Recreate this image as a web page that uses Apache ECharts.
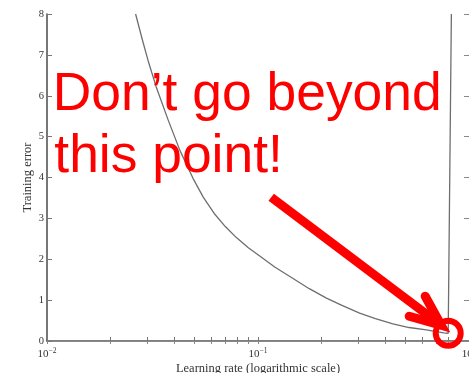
<!DOCTYPE html>
<html>
<head>
<meta charset="utf-8">
<script src="https://cdn.jsdelivr.net/npm/echarts@6/dist/echarts.min.js"></script>
<style>
  html, body { margin: 0; padding: 0; background: #fff; }
  #chart { width: 469px; height: 373px; }
</style>
</head>
<body>
<div id="chart"></div>
<script>
// Training error as a function of the learning rate (log scale)
const learningRate  = [0.0263, 0.0282, 0.0301, 0.0330, 0.0375, 0.0426, 0.0492, 0.0550, 0.0620, 0.0700, 0.0790,
                       0.0900, 0.1019, 0.1200, 0.1466, 0.1750, 0.2110, 0.2500, 0.3030, 0.3600, 0.4360, 0.5200,
                       0.6280, 0.7000, 0.7600, 0.7970, 0.8250];
const trainingError = [8.00,   7.40,   6.87,   6.20,   5.41,   4.67,   3.98,   3.52,   3.12,   2.80,   2.53,
                       2.28,   2.08,   1.81,   1.53,   1.28,   1.05,   0.87,   0.68,   0.55,   0.42,   0.33,
                       0.27,   0.23,   0.20,   0.19,   8.00];

// Axis ticks and labels
const xLabelValues = [0.01, 0.1, 1];
const xLabelExponents = ['\u22122', '\u22121', '0'];
const xTickValues = [0.01, 0.02, 0.03, 0.04, 0.05, 0.06, 0.07, 0.08, 0.09,
                     0.1, 0.2, 0.3, 0.4, 0.5, 0.6, 0.7, 0.8, 0.9, 1];
const yTickValues = [0, 1, 2, 3, 4, 5, 6, 7, 8];

// Index of the point the annotation points at (the bottom of the curve)
const markedIndex = 25;

const serif = '"Liberation Serif", "DejaVu Serif", serif';
const sans = '"Liberation Sans", Arial, sans-serif';

const chart = echarts.init(document.getElementById('chart'), null, { renderer: 'canvas' });

const option = {
  animation: false,
  backgroundColor: '#fff',
  grid: { left: 47, right: 0, top: 14, bottom: 32, containLabel: false, outerBoundsMode: 'none' },
  xAxis: [
    {
      type: 'log', logBase: 10, min: 0.01, max: 1, position: 'bottom',
      name: 'Learning rate (logarithmic scale)',
      nameLocation: 'middle', nameGap: 21, nameMoveOverlap: false,
      nameTextStyle: { fontFamily: serif, fontSize: 12.5, color: '#333' },
      axisLine: { show: true, lineStyle: { color: '#555', width: 1.6 } },
      axisTick: { show: true, inside: true, length: 4, customValues: xTickValues,
                  lineStyle: { color: '#777', width: 1 } },
      axisLabel: {
        show: true, customValues: xLabelValues, margin: 6, hideOverlap: false,
        formatter: function (v) {
          let i = 0, best = Infinity;
          xLabelValues.forEach(function (lv, k) {
            const d = Math.abs(Math.log10(lv) - Math.log10(v));
            if (d < best) { best = d; i = k; }
          });
          return '{b|10}{s|' + xLabelExponents[i] + '}';
        },
        rich: {
          b: { fontFamily: serif, fontSize: 11, color: '#333', lineHeight: 14 },
          s: { fontFamily: serif, fontSize: 7.5, color: '#333', verticalAlign: 'top', lineHeight: 9 }
        }
      },
      splitLine: { show: false }
    },
    {
      type: 'log', logBase: 10, min: 0.01, max: 1, position: 'top',
      axisLine: { show: true, lineStyle: { color: '#888', width: 1 } },
      axisTick: { show: true, inside: true, length: 3, customValues: xTickValues,
                  lineStyle: { color: '#888', width: 1 } },
      axisLabel: { show: false },
      splitLine: { show: false }
    }
  ],
  yAxis: [
    {
      type: 'value', min: 0, max: 8, interval: 1, position: 'left',
      name: 'Training error',
      nameLocation: 'middle', nameGap: 13, nameRotate: 90, nameMoveOverlap: false,
      nameTextStyle: { fontFamily: serif, fontSize: 12.5, color: '#333' },
      axisLine: { show: true, lineStyle: { color: '#555', width: 1.6 } },
      axisTick: { show: true, inside: true, length: 5, customValues: yTickValues,
                  lineStyle: { color: '#777', width: 1 } },
      axisLabel: { show: true, margin: 3, fontFamily: serif, fontSize: 10.5, color: '#333',
                   customValues: yTickValues },
      splitLine: { show: false }
    },
    {
      type: 'value', min: 0, max: 8, interval: 1, position: 'right',
      axisLine: { show: true, lineStyle: { color: '#999', width: 1 } },
      axisTick: { show: true, inside: true, length: 5, lineStyle: { color: '#888', width: 1 } },
      axisLabel: { show: false },
      splitLine: { show: false }
    }
  ],
  series: [
    {
      type: 'line',
      xAxisIndex: 0, yAxisIndex: 0,
      data: learningRate.map(function (x, i) { return [x, trainingError[i]]; }),
      showSymbol: false,
      lineStyle: { color: '#6e6e6e', width: 1.3 },
      clip: true,
      z: 2
    }
  ]
};

chart.setOption(option);

// Red annotation: text, arrow and a ring round the marked point
const c = chart.convertToPixel({ xAxisIndex: 0, yAxisIndex: 0 },
                               [learningRate[markedIndex], trainingError[markedIndex]]);
const red = '#ff0000';
const tip = [c[0] - 7, c[1] - 8];

chart.setOption({
  graphic: [
    {
      type: 'text', left: 52.8, top: 68.7, z: 10,
      style: { text: 'Don\u2019t go beyond', font: '53.4px ' + sans, fill: red }
    },
    {
      type: 'text', left: 54.3, top: 130.7, z: 10,
      style: { text: 'this point!', font: '53.4px ' + sans, fill: red }
    },
    {
      type: 'line', z: 10,
      shape: { x1: c[0] - 177, y1: c[1] - 136, x2: tip[0], y2: tip[1] },
      style: { stroke: red, lineWidth: 9, lineCap: 'butt' }
    },
    {
      type: 'polyline', z: 10,
      shape: { points: [[c[0] - 39, c[1] - 17], tip, [c[0] - 23, c[1] - 37]] },
      style: { stroke: red, lineWidth: 9, lineCap: 'round', lineJoin: 'miter', fill: null }
    },
    {
      type: 'circle', z: 11,
      shape: { cx: c[0], cy: c[1], r: 12.5 },
      style: { stroke: red, lineWidth: 6, fill: null }
    }
  ]
});
</script>
</body>
</html>
